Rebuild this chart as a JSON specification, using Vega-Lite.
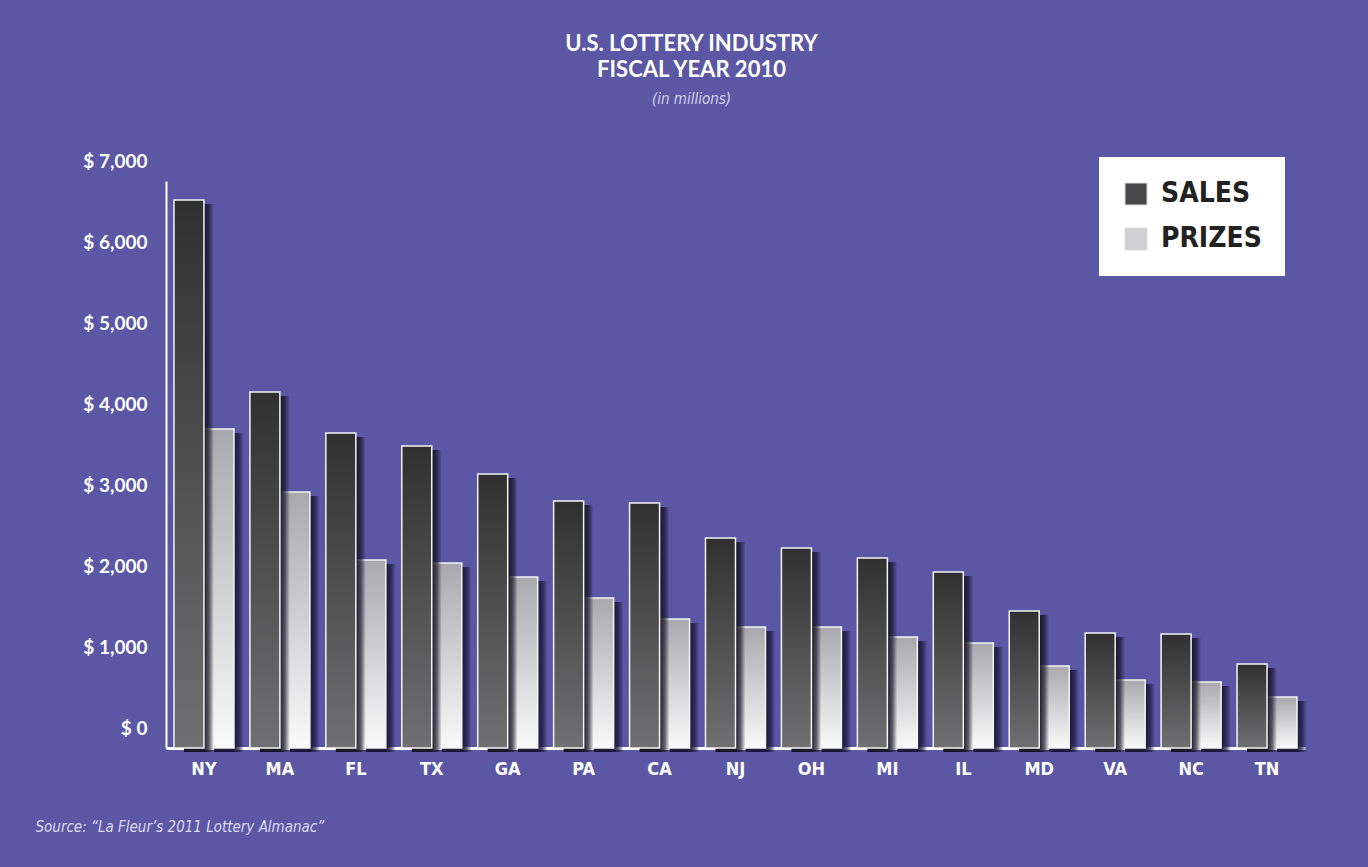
{
  "$schema": "https://vega.github.io/schema/vega-lite/v6.json",
  "autosize": "none",
  "width": 1139,
  "height": 567,
  "padding": {"left": 166, "top": 181, "right": 63, "bottom": 119},
  "background": "#5b57a5",
  "config": {"view": {"stroke": null}},
  "title": {
    "text": ["U.S. LOTTERY INDUSTRY", "FISCAL YEAR 2010"],
    "subtitle": "(in millions)",
    "font": "Lato",
    "fontSize": 22,
    "fontWeight": "bold",
    "color": "white",
    "lineHeight": 26,
    "subtitleFont": "'DejaVu Sans Condensed', Roboto",
    "subtitleFontStyle": "italic",
    "subtitleFontSize": 15,
    "subtitleColor": "#d4d2ec",
    "subtitlePadding": 10,
    "anchor": "middle",
    "frame": "group",
    "dx": -44,
    "offset": 44
  },
  "data": {
    "values": [
      {"state": "NY", "series": "SALES", "value": 6765}, {"state": "NY", "series": "PRIZES", "value": 3938},
      {"state": "MA", "series": "SALES", "value": 4395}, {"state": "MA", "series": "PRIZES", "value": 3160},
      {"state": "FL", "series": "SALES", "value": 3889}, {"state": "FL", "series": "PRIZES", "value": 2321},
      {"state": "TX", "series": "SALES", "value": 3728}, {"state": "TX", "series": "PRIZES", "value": 2284},
      {"state": "GA", "series": "SALES", "value": 3383}, {"state": "GA", "series": "PRIZES", "value": 2111},
      {"state": "PA", "series": "SALES", "value": 3049}, {"state": "PA", "series": "PRIZES", "value": 1852},
      {"state": "CA", "series": "SALES", "value": 3025}, {"state": "CA", "series": "PRIZES", "value": 1593},
      {"state": "NJ", "series": "SALES", "value": 2593}, {"state": "NJ", "series": "PRIZES", "value": 1494},
      {"state": "OH", "series": "SALES", "value": 2469}, {"state": "OH", "series": "PRIZES", "value": 1494},
      {"state": "MI", "series": "SALES", "value": 2346}, {"state": "MI", "series": "PRIZES", "value": 1370},
      {"state": "IL", "series": "SALES", "value": 2173}, {"state": "IL", "series": "PRIZES", "value": 1296},
      {"state": "MD", "series": "SALES", "value": 1691}, {"state": "MD", "series": "PRIZES", "value": 1012},
      {"state": "VA", "series": "SALES", "value": 1420}, {"state": "VA", "series": "PRIZES", "value": 840},
      {"state": "NC", "series": "SALES", "value": 1407}, {"state": "NC", "series": "PRIZES", "value": 815},
      {"state": "TN", "series": "SALES", "value": 1037}, {"state": "TN", "series": "PRIZES", "value": 630}
    ]
  },
  "encoding": {
    "x": {
      "field": "state",
      "type": "nominal",
      "sort": ["NY","MA","FL","TX","GA","PA","CA","NJ","OH","MI","IL","MD","VA","NC","TN"],
      "scale": {"paddingInner": 0.21, "paddingOuter": 0.105},
      "axis": {
        "title": "Source: “La Fleur’s 2011 Lottery Almanac”",
        "titleFont": "'DejaVu Sans Condensed', Roboto",
        "titleFontStyle": "italic",
        "titleFontWeight": "normal",
        "titleFontSize": 15,
        "titleColor": "#dcdaf0",
        "titleAnchor": "start",
        "titleAlign": "left",
        "titleBaseline": "middle",
        "titleX": -131,
        "titleY": 78,
        "labelAngle": 0,
        "labelFont": "'DejaVu Sans Condensed', Roboto",
        "labelFontWeight": "bold",
        "labelFontSize": 18,
        "labelColor": "white",
        "labelPadding": 12,
        "ticks": false,
        "domainColor": "white",
        "domainWidth": 3
      }
    },
    "y": {
      "field": "value",
      "type": "quantitative",
      "scale": {"domain": [0, 7000], "nice": false},
      "axis": {
        "title": null,
        "values": [0, 1000, 2000, 3000, 4000, 5000, 6000, 7000],
        "labelExpr": "'$ ' + format(datum.value, ',')",
        "labelFont": "Lato",
        "labelFontWeight": "bold",
        "labelFontSize": 19,
        "labelColor": "white",
        "labelPadding": 19,
        "labelOffset": -20,
        "ticks": false,
        "grid": false,
        "domainColor": "white",
        "domainWidth": 2
      }
    }
  },
  "layer": [
    {
      "transform": [{"filter": "datum.series === 'PRIZES'"}],
      "mark": {"type": "bar", "width": 30, "xOffset": 25, "yOffset": 4,
        "color": {"gradient": "linear", "x1": 0, "y1": 0, "x2": 1, "y2": 0,
          "stops": [{"offset": 0, "color": "rgba(22,20,50,0.95)"}, {"offset": 0.67, "color": "rgba(22,20,50,0.95)"}, {"offset": 0.84, "color": "rgba(22,20,50,0.65)"}, {"offset": 1, "color": "rgba(22,20,50,0)"}]}}
    },
    {
      "transform": [{"filter": "datum.series === 'PRIZES'"}],
      "mark": {"type": "bar", "width": 30, "xOffset": 15, "stroke": "#f4f4f4", "strokeWidth": 1.5,
        "color": {"gradient": "linear", "x1": 0, "y1": 0, "x2": 0, "y2": 1, "stops": [{"offset": 0, "color": "#a8a8ae"}, {"offset": 1, "color": "#fafafa"}]}}
    },
    {
      "transform": [{"filter": "datum.series === 'SALES'"}],
      "mark": {"type": "bar", "width": 30, "xOffset": -5, "yOffset": 4,
        "color": {"gradient": "linear", "x1": 0, "y1": 0, "x2": 1, "y2": 0,
          "stops": [{"offset": 0, "color": "rgba(20,18,35,1)"}, {"offset": 0.67, "color": "rgba(20,18,35,0.95)"}, {"offset": 0.84, "color": "rgba(20,18,35,0.65)"}, {"offset": 1, "color": "rgba(20,18,35,0)"}]}}
    },
    {
      "transform": [{"filter": "datum.series === 'SALES'"}],
      "mark": {"type": "bar", "width": 30, "xOffset": -15, "stroke": "#f4f4f4", "strokeWidth": 1.5,
        "color": {"gradient": "linear", "x1": 0, "y1": 0, "x2": 0, "y2": 1, "stops": [{"offset": 0, "color": "#303030"}, {"offset": 1, "color": "#707072"}]}}
    },
    {
      "mark": {"type": "square", "opacity": 0, "size": 1},
      "encoding": {
        "color": {"field": "series", "type": "nominal",
          "scale": {"domain": ["SALES", "PRIZES"], "range": ["#48484a", "#cfcfd3"]},
          "legend": {
            "title": null,
            "orient": "none",
            "legendX": 933,
            "legendY": -24,
            "fillColor": "white",
            "padding": 23,
            "symbolType": "square",
            "symbolSize": 484,
            "symbolOpacity": 1,
            "symbolStrokeColor": "#dddddd",
            "symbolStrokeWidth": 1,
            "labelFont": "'DejaVu Sans Condensed', Roboto",
            "labelFontWeight": "bold",
            "labelFontSize": 28,
            "labelColor": "#222222",
            "labelOffset": 11,
            "rowPadding": 17
          }
        }
      }
    }
  ]
}
